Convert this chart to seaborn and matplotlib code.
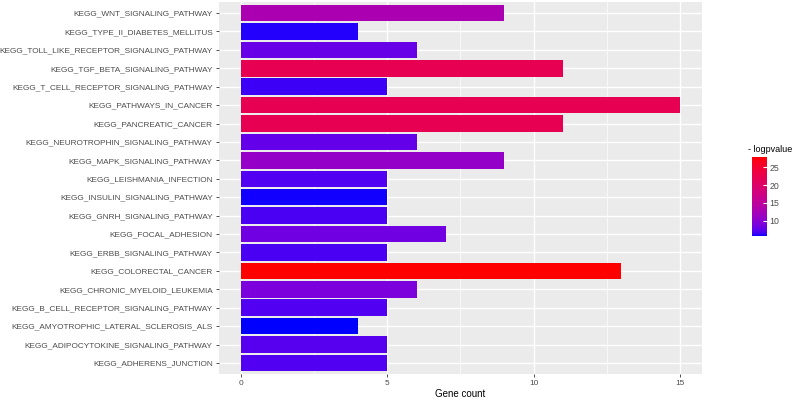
import numpy as np
import pandas as pd
import matplotlib
matplotlib.use("Agg")
import matplotlib.pyplot as plt
import seaborn as sns
from matplotlib.colors import ListedColormap, Normalize
from matplotlib.cm import ScalarMappable

pathways = [
    "KEGG_WNT_SIGNALING_PATHWAY",
    "KEGG_TYPE_II_DIABETES_MELLITUS",
    "KEGG_TOLL_LIKE_RECEPTOR_SIGNALING_PATHWAY",
    "KEGG_TGF_BETA_SIGNALING_PATHWAY",
    "KEGG_T_CELL_RECEPTOR_SIGNALING_PATHWAY",
    "KEGG_PATHWAYS_IN_CANCER",
    "KEGG_PANCREATIC_CANCER",
    "KEGG_NEUROTROPHIN_SIGNALING_PATHWAY",
    "KEGG_MAPK_SIGNALING_PATHWAY",
    "KEGG_LEISHMANIA_INFECTION",
    "KEGG_INSULIN_SIGNALING_PATHWAY",
    "KEGG_GNRH_SIGNALING_PATHWAY",
    "KEGG_FOCAL_ADHESION",
    "KEGG_ERBB_SIGNALING_PATHWAY",
    "KEGG_COLORECTAL_CANCER",
    "KEGG_CHRONIC_MYELOID_LEUKEMIA",
    "KEGG_B_CELL_RECEPTOR_SIGNALING_PATHWAY",
    "KEGG_AMYOTROPHIC_LATERAL_SCLEROSIS_ALS",
    "KEGG_ADIPOCYTOKINE_SIGNALING_PATHWAY",
    "KEGG_ADHERENS_JUNCTION",
]
gene_count = [9, 4, 6, 11, 5, 15, 11, 6, 9, 5, 5, 5, 7, 5, 13, 6, 5, 4, 5, 5]
neg_log_p = [13.0, 6.1, 8.0, 22.0, 6.5, 22.2, 22.0, 7.8, 10.8, 7.1,
             5.9, 6.9, 8.4, 6.9, 27.8, 9.1, 7.1, 5.8, 7.3, 7.1]
x_ticks = [0, 5, 10, 15]
cbar_ticks = [10, 15, 20, 25]

# ---- ggplot-like gradient (blue -> red interpolated in Lab space) ----
def srgb_to_lab(rgb):
    c = np.asarray(rgb, float)
    c = np.where(c <= 0.04045, c / 12.92, ((c + 0.055) / 1.055) ** 2.4)
    M = np.array([[0.4124, 0.3576, 0.1805],
                  [0.2126, 0.7152, 0.0722],
                  [0.0193, 0.1192, 0.9505]])
    xyz = M @ c
    wp = np.array([0.95047, 1.0, 1.08883])
    t = xyz / wp
    f = np.where(t > (6 / 29) ** 3, np.cbrt(t), t / (3 * (6 / 29) ** 2) + 4 / 29)
    return np.array([116 * f[1] - 16, 500 * (f[0] - f[1]), 200 * (f[1] - f[2])])

def lab_to_srgb(lab):
    L, a, b = lab
    fy = (L + 16) / 116
    fx = fy + a / 500
    fz = fy - b / 200
    def finv(f):
        return f ** 3 if f > 6 / 29 else 3 * (6 / 29) ** 2 * (f - 4 / 29)
    wp = np.array([0.95047, 1.0, 1.08883])
    xyz = np.array([finv(fx), finv(fy), finv(fz)]) * wp
    Minv = np.array([[3.2406, -1.5372, -0.4986],
                     [-0.9689, 1.8758, 0.0415],
                     [0.0557, -0.2040, 1.0570]])
    lin = Minv @ xyz
    lin = np.clip(lin, 0, 1)
    c = np.where(lin <= 0.0031308, 12.92 * lin, 1.055 * lin ** (1 / 2.4) - 0.055)
    return np.clip(c, 0, 1)

lab_lo = srgb_to_lab([0, 0, 1])
lab_hi = srgb_to_lab([1, 0, 0])
ts = np.linspace(0, 1, 256)
cmap = ListedColormap([lab_to_srgb(lab_lo + t * (lab_hi - lab_lo)) for t in ts])
vmin, vmax = min(neg_log_p), max(neg_log_p)
norm = Normalize(vmin, vmax)
colors = [cmap(norm(v)) for v in neg_log_p]

df = pd.DataFrame({"pathway": pathways, "count": gene_count, "nlp": neg_log_p})

plt.rcParams["font.family"] = ["Liberation Sans", "DejaVu Sans"]
fig = plt.figure(figsize=(7.94, 4.0), dpi=100)
ax = fig.add_axes([219 / 794, 1 - 374 / 400, (702 - 219) / 794, (374 - 2) / 400])
ax.set_facecolor("#EBEBEB")

sns.barplot(data=df, x="count", y="pathway", hue="pathway", palette=colors,
            order=pathways, hue_order=pathways, legend=False, width=0.9,
            saturation=1, ax=ax, zorder=3)

ax.set_xlim(-0.75, 15.75)
ax.set_ylim(len(pathways) - 1 + 0.6, -0.6)
ax.set_xticks(x_ticks)
ax.set_xticklabels([str(t) for t in x_ticks])
ax.set_xticks([2.5, 7.5, 12.5], minor=True)
ax.grid(True, which="major", color="white", linewidth=1.0, zorder=0)
ax.grid(True, which="minor", axis="x", color="white", linewidth=0.5, zorder=0)
ax.set_axisbelow(True)
for s in ax.spines.values():
    s.set_visible(False)
ax.tick_params(axis="both", which="major", length=2.5, width=0.6, color="#333333",
               labelcolor="#4D4D4D", labelsize=5.95, pad=2)
ax.tick_params(axis="both", which="minor", length=0)
ax.set_xlabel("Gene count", fontsize=7, color="black", labelpad=1)
ax.set_ylabel("")

# colour bar
cax = fig.add_axes([752 / 794, 1 - 236 / 400, 15 / 794, (236 - 157) / 400])
sm = ScalarMappable(norm=norm, cmap=cmap)
cb = fig.colorbar(sm, cax=cax, ticks=cbar_ticks)
cb.outline.set_visible(False)
cb.ax.tick_params(length=3, width=0.8, color="white", direction="in",
                  labelsize=6.3, labelcolor="#4D4D4D", pad=2)
fig.text(748 / 794, 1 - 150 / 400, "- logpvalue", fontsize=6.5,
         ha="left", va="center", color="black")

fig.savefig("out.png", dpi=100)
